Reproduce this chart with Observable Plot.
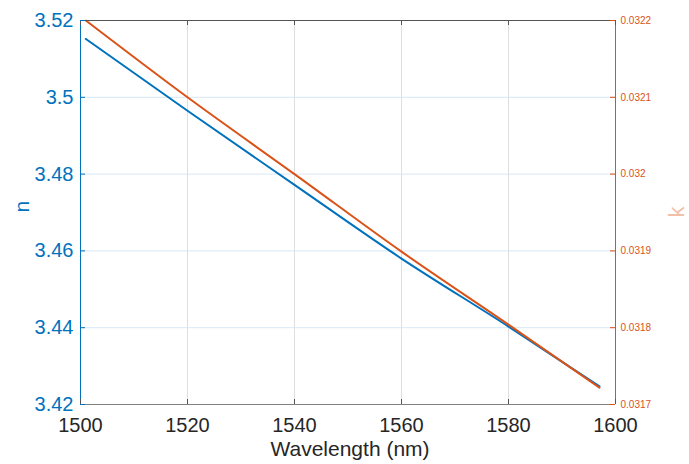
<!DOCTYPE html>
<html><head><meta charset="utf-8">
<script src="https://cdn.jsdelivr.net/npm/d3@7"></script>
<script src="https://cdn.jsdelivr.net/npm/@observablehq/plot@0.6"></script>
<style>body{margin:0;background:#fff}</style>
</head><body><div id="chart"></div>
<script>
// Data
const wavelength = [1501, 1520, 1540, 1560, 1580, 1597];
const nValues = [3.5152, 3.4965, 3.4772, 3.4580, 3.4403, 3.4247];
const kValues = [0.03220, 0.03210, 0.03200, 0.031899, 0.031804, 0.031722];

const xTicks = [1500, 1520, 1540, 1560, 1580, 1600];
const nTicks = [3.42, 3.44, 3.46, 3.48, 3.5, 3.52];
const nTickLabels = ["3.42", "3.44", "3.46", "3.48", "3.5", "3.52"];
const kTicks = [0.0317, 0.0318, 0.0319, 0.0320, 0.0321, 0.0322];
const kTickLabels = ["0.0317", "0.0318", "0.0319", "0.032", "0.0321", "0.0322"];

const xDomain = [1500, 1600];
const nDomain = [3.42, 3.52];
const kDomain = [0.0317, 0.0322];

const BLUE = "#0072BD", ORANGE = "#D95319";
const kToN = k => nDomain[0] + (k - kDomain[0]) / (kDomain[1] - kDomain[0]) * (nDomain[1] - nDomain[0]);

const nData = wavelength.map((w, i) => ({w, v: nValues[i]}));
const kData = wavelength.map((w, i) => ({w, v: kToN(kValues[i])}));
const kPos = kTicks.map(kToN);

const W = 689, H = 464, mL = 80, mR = 74, mT = 20, mB = 60;
const pw = W - mL - mR, ph = H - mT - mB, TL = 5;

const chart = Plot.plot({
  width: W, height: H,
  marginLeft: mL, marginRight: mR, marginTop: mT, marginBottom: mB,
  style: {fontFamily: "Liberation Sans, Arial, sans-serif", background: "#fff"},
  x: {domain: xDomain},
  y: {domain: nDomain},
  marks: [
    Plot.gridX(xTicks, {stroke: "#dedede", strokeOpacity: 1}),
    Plot.gridY(nTicks, {stroke: "#d8e7f5", strokeOpacity: 1}),
    Plot.lineY(nData, {x: "w", y: "v", stroke: BLUE, strokeWidth: 2, curve: "monotone-x"}),
    Plot.lineY(kData, {x: "w", y: "v", stroke: ORANGE, strokeWidth: 2, curve: "monotone-x"}),
    Plot.ruleY([nDomain[1]], {stroke: "#555", strokeWidth: 1}),
    Plot.ruleY([nDomain[0]], {stroke: "#808080", strokeWidth: 1}),
    Plot.ruleX([xDomain[0]], {stroke: BLUE, strokeWidth: 1}),
    Plot.ruleX([xDomain[1]], {stroke: ORANGE, strokeWidth: 1}),
    Plot.tickX(xTicks, {x: d => d, insetTop: ph - TL, stroke: "#555"}),
    Plot.tickX(xTicks, {x: d => d, insetBottom: ph - TL, stroke: "#555"}),
    Plot.tickY(nTicks, {y: d => d, insetRight: pw - TL, stroke: BLUE}),
    Plot.tickY(kPos, {y: d => d, insetLeft: pw - TL, stroke: ORANGE}),
    Plot.axisX({ticks: xTicks, tickSize: 0, tickPadding: 13, fontSize: 20, fill: "#262626", label: null, tickFormat: d => String(d)}),
    Plot.axisY({anchor: "left", ticks: nTicks, tickSize: 0, tickPadding: 7, fontSize: 20, fill: BLUE, label: null,
      tickFormat: d => nTickLabels[nTicks.indexOf(d)]}),
    Plot.axisY({anchor: "right", ticks: kPos, tickSize: 0, tickPadding: 5, fontSize: 10, fill: ORANGE, label: null,
      tickFormat: d => kTickLabels[kPos.indexOf(d)]}),
    Plot.text(["n"], {frameAnchor: "left", dx: -58, rotate: -90, fontSize: 21, fill: BLUE}),
    Plot.text(["k"], {frameAnchor: "right", dx: 61, dy: -6, rotate: -90, fontSize: 22, fill: "#f2bfa7"}),
    Plot.text(["Wavelength (nm)"], {frameAnchor: "bottom", dx: 2, dy: 51, fontSize: 21, fill: "#262626"})
  ]
});
document.getElementById("chart").append(chart);
</script>
</body></html>
